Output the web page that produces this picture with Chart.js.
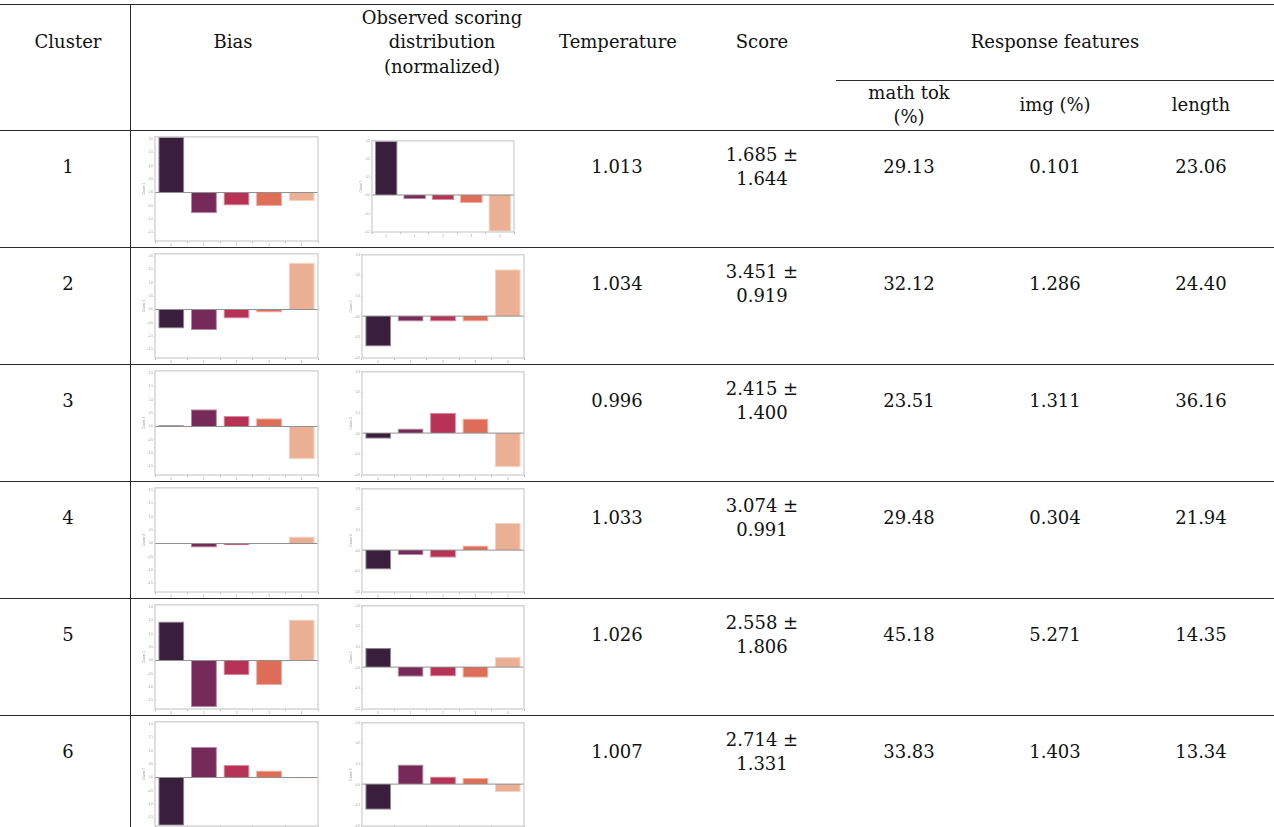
<!DOCTYPE html>
<html><head><meta charset="utf-8">
<script src="https://cdn.jsdelivr.net/npm/chart.js@4.4.1/dist/chart.umd.min.js"></script>
<style>
html,body{margin:0;padding:0;background:#fff;}
#page{position:relative;width:1274px;height:827px;overflow:hidden;background:#fff;font-family:"DejaVu Serif",serif;font-size:18px;color:#111;}
.t{position:absolute;transform:translate(-50%,-50%);white-space:nowrap;text-align:center;line-height:24px;}
.rule{position:absolute;background:#2a2a2a;}
.box{position:absolute;}
.box canvas{display:block;}
</style></head>
<body><div id="page"></div>
<script>
// ---- data ----
const clusters = [1, 2, 3, 4, 5, 6];
const temperatures = [1.013, 1.034, 0.996, 1.033, 1.026, 1.007];
const scoreMean = [1.685, 3.451, 2.415, 3.074, 2.558, 2.714];
const scoreStd = [1.644, 0.919, 1.400, 0.991, 1.806, 1.331];
const mathTok = [29.13, 32.12, 23.51, 29.48, 45.18, 33.83];
const imgPct = [0.101, 1.286, 1.311, 0.304, 5.271, 1.403];
const lengths = [23.06, 24.40, 36.16, 21.94, 14.35, 13.34];
const scoreCategories = ['0', '1', '2', '3', '4'];
const biasValues = [
  [2.08, -0.78, -0.49, -0.51, -0.32],
  [-0.71, -0.77, -0.34, -0.11, 1.75],
  [0.05, 0.65, 0.39, 0.31, -1.23],
  [0.0, -0.15, -0.07, -0.01, 0.26],
  [1.46, -1.75, -0.55, -0.92, 1.54],
  [-1.81, 1.14, 0.47, 0.26, -0.04]
];
const observedValues = [
  [0.296, -0.024, -0.027, -0.044, -0.202],
  [-0.147, -0.026, -0.026, -0.026, 0.227],
  [-0.027, 0.022, 0.098, 0.071, -0.165],
  [-0.094, -0.024, -0.037, 0.022, 0.131],
  [0.093, -0.047, -0.046, -0.052, 0.049],
  [-0.124, 0.095, 0.037, 0.030, -0.038]
];
const biasRange = [-1.82, 2.09];
const observedRange = [-0.203, 0.297];
const biasTickStep = 0.5;
const observedTickStep = 0.1;
const barColors = ['#3a1f3d', '#772a5a', '#b83256', '#de6e57', '#ebb093'];

// ---- layout ----
const page = document.getElementById('page');
function text(x, y, s) {
  const d = document.createElement('div');
  d.className = 't'; d.style.left = x + 'px'; d.style.top = y + 'px';
  d.innerHTML = s; page.appendChild(d);
}
function rule(x, y, w, h) {
  const d = document.createElement('div');
  d.className = 'rule';
  Object.assign(d.style, {left: x + 'px', top: y + 'px', width: w + 'px', height: h + 'px'});
  page.appendChild(d);
}
rule(0, 3.5, 1274, 1.4);
rule(0, 129.5, 1274, 1.1);
rule(836, 79.5, 438, 1.1);
for (let i = 1; i < 6; i++) rule(0, 130 + 117 * i, 1274, 1);
rule(129.5, 4, 1.1, 823);

text(68, 42, 'Cluster');
text(233, 42, 'Bias');
text(442, 18, 'Observed scoring');
text(442, 42, 'distribution');
text(442, 67, '(normalized)');
text(618, 42, 'Temperature');
text(762, 42, 'Score');
text(1055, 42, 'Response features');
text(909, 93, 'math tok');
text(909, 117, '(%)');
text(1055, 105, 'img (%)');
text(1201, 105, 'length');

clusters.forEach((c, i) => {
  const y = 167 + 117 * i;
  text(68, y, String(c));
  text(617, y, temperatures[i].toFixed(3));
  text(762, y - 12, scoreMean[i].toFixed(3) + ' &plusmn;');
  text(762, y + 12, scoreStd[i].toFixed(3));
  text(909, y, mathTok[i].toFixed(2));
  text(1055, y, imgPct[i].toFixed(3));
  text(1201, y, lengths[i].toFixed(2));
});

function lighten(hex, f) {
  const n = parseInt(hex.slice(1), 16);
  const r = (n >> 16) & 255, g = (n >> 8) & 255, b = n & 255;
  const m = v => Math.round(v + (255 - v) * f);
  return 'rgb(' + m(r) + ',' + m(g) + ',' + m(b) + ')';
}

const framePlugin = {
  id: 'frame',
  afterDatasetsDraw(chart) {
    const {ctx, chartArea: a, scales} = chart;
    ctx.save();
    const y0 = scales.y.getPixelForValue(0);
    ctx.strokeStyle = '#8f8f8f'; ctx.lineWidth = 1;
    ctx.beginPath(); ctx.moveTo(a.left, y0); ctx.lineTo(a.right, y0); ctx.stroke();
    ctx.strokeStyle = '#cfcfcf'; ctx.lineWidth = 1.3;
    ctx.strokeRect(a.left, a.top, a.right - a.left, a.bottom - a.top);
    ctx.restore();
  }
};

function miniChart(fx, fy, fw, fh, values, range, step, label) {
  const padL = 13, padT = 2, padB = 6, padR = 2;
  const box = document.createElement('div');
  box.className = 'box';
  const W = fw + padL + padR, H = fh + padT + padB;
  Object.assign(box.style, {left: (fx - padL) + 'px', top: (fy - padT) + 'px', width: W + 'px', height: H + 'px'});
  const cv = document.createElement('canvas');
  cv.width = W; cv.height = H; cv.style.width = W + 'px'; cv.style.height = H + 'px';
  box.appendChild(cv); page.appendChild(box);
  new Chart(cv.getContext('2d'), {
    type: 'bar',
    data: {
      labels: scoreCategories,
      datasets: [{
        data: values,
        backgroundColor: barColors,
        borderColor: barColors.map(c => lighten(c, 0.45)),
        borderWidth: 1,
        barPercentage: 0.8,
        categoryPercentage: 1.0
      }]
    },
    options: {
      responsive: false, animation: false,
      layout: {padding: {top: padT, right: padR, left: 0, bottom: 0}},
      plugins: {legend: {display: false}, tooltip: {enabled: false}},
      scales: {
        x: {
          grid: {drawOnChartArea: false, tickLength: 2, color: '#bbb'},
          border: {display: false},
          ticks: {font: {size: 3}, color: '#999', padding: 0, maxRotation: 0},
          afterFit: s => { s.height = padB; }
        },
        y: {
          min: range[0], max: range[1],
          grid: {drawOnChartArea: false, tickLength: 1, color: '#ccc'},
          border: {display: false},
          ticks: {stepSize: step, includeBounds: false, font: {size: 3}, color: '#999', padding: 1,
                  callback: v => v.toFixed(1)},
          title: {display: true, text: label, font: {size: 3}, color: '#999', padding: 0},
          afterFit: s => { s.width = padL; }
        }
      }
    },
    plugins: [framePlugin]
  });
}

clusters.forEach((c, i) => {
  const rowTop = 130 + 117 * i;
  miniChart(155, rowTop + 6, 163, 105, biasValues[i], biasRange, biasTickStep, 'Cluster ' + c);
  if (i === 0) {
    miniChart(372, 140, 142, 92, observedValues[i], observedRange, observedTickStep, 'Cluster ' + c);
  } else {
    miniChart(362, rowTop + 7, 162, 104, observedValues[i], observedRange, observedTickStep, 'Cluster ' + c);
  }
});
</script>
</body></html>
